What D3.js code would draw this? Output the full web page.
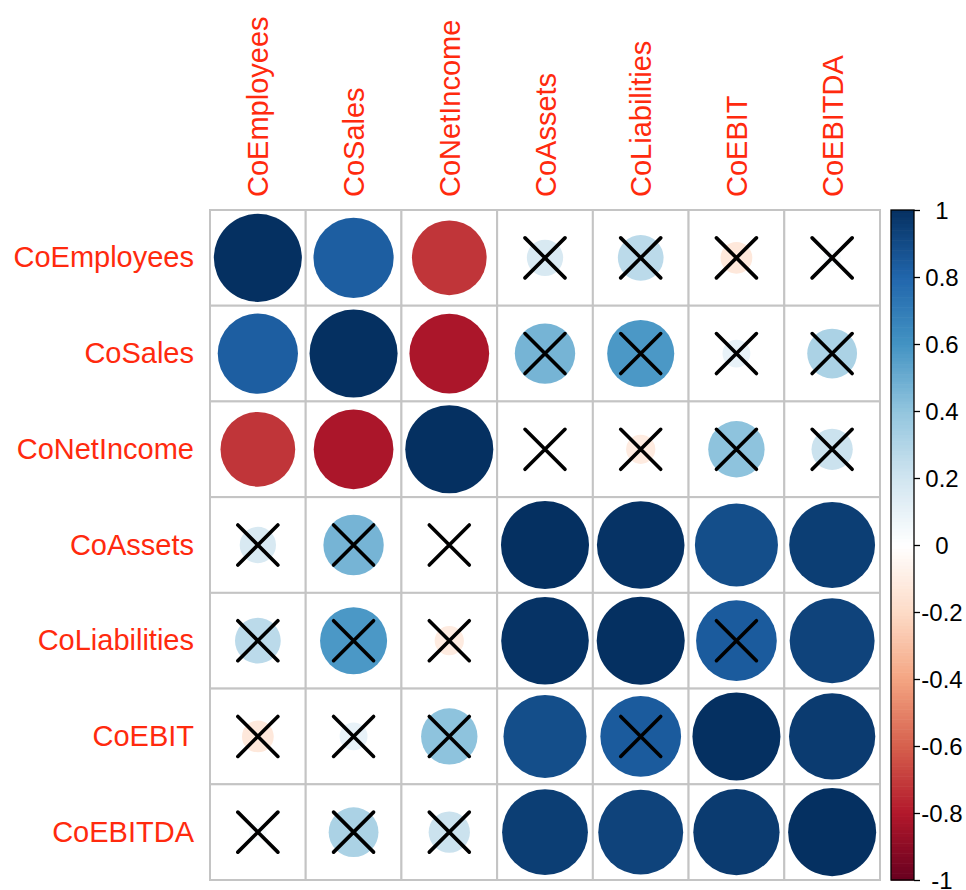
<!DOCTYPE html>
<html>
<head>
<meta charset="utf-8">
<script src="https://cdn.jsdelivr.net/npm/d3@7"></script>
<style>
  html, body { margin: 0; padding: 0; background: #ffffff; }
  svg { display: block; }
</style>
</head>
<body>
<div id="chart"></div>
<script>
// ---------- data ----------
const variables = ["CoEmployees", "CoSales", "CoNetIncome", "CoAssets", "CoLiabilities", "CoEBIT", "CoEBITDA"];

const corrEmployees   = [ 1.00,  0.83, -0.72,  0.17,  0.27, -0.13,  0.04];
const corrSales       = [ 0.83,  1.00, -0.82,  0.47,  0.58,  0.10,  0.32];
const corrNetIncome   = [-0.72, -0.82,  1.00,  0.01, -0.11,  0.41,  0.22];
const corrAssets      = [ 0.17,  0.47,  0.01,  1.00,  0.99,  0.89,  0.95];
const corrLiabilities = [ 0.27,  0.58, -0.11,  0.99,  1.00,  0.84,  0.93];
const corrEBIT        = [-0.13,  0.10,  0.41,  0.89,  0.84,  1.00,  0.96];
const corrEBITDA      = [ 0.04,  0.32,  0.22,  0.95,  0.93,  0.96,  1.00];

// 1 = not significant (crossed out)
const insigEmployees   = [0, 0, 0, 1, 1, 1, 1];
const insigSales       = [0, 0, 0, 1, 1, 1, 1];
const insigNetIncome   = [0, 0, 0, 1, 1, 1, 1];
const insigAssets      = [1, 1, 1, 0, 0, 0, 0];
const insigLiabilities = [1, 1, 1, 0, 0, 1, 0];
const insigEBIT        = [1, 1, 1, 0, 1, 0, 0];
const insigEBITDA      = [1, 1, 1, 0, 0, 0, 0];

const legendTicks  = [1, 0.8, 0.6, 0.4, 0.2, 0, -0.2, -0.4, -0.6, -0.8, -1];
const legendLabels = ["1", "0.8", "0.6", "0.4", "0.2", "0", "-0.2", "-0.4", "-0.6", "-0.8", "-1"];

const paletteColors = ["#67001F", "#B2182B", "#D6604D", "#F4A582", "#FDDBC7", "#FFFFFF",
                       "#D1E5F0", "#92C5DE", "#4393C3", "#2166AC", "#053061"];

// ---------- build ----------
const corrRows  = [corrEmployees, corrSales, corrNetIncome, corrAssets, corrLiabilities, corrEBIT, corrEBITDA];
const insigRows = [insigEmployees, insigSales, insigNetIncome, insigAssets, insigLiabilities, insigEBIT, insigEBITDA];

const cells = [];
variables.forEach((rv, i) => {
  variables.forEach((cv, j) => {
    cells.push({ row: rv, col: cv, r: corrRows[i][j], insig: insigRows[i][j] === 1 });
  });
});

const W = 966, H = 890;
const gx0 = 210, gx1 = 880, gy0 = 210, gy1 = 880;
const labelColor = "#ff2a0e";
const font = "'Liberation Sans', Arial, Helvetica, sans-serif";

const svg = d3.select("#chart").append("svg")
  .attr("width", W).attr("height", H)
  .attr("viewBox", `0 0 ${W} ${H}`);

const x = d3.scaleBand().domain(variables).range([gx0, gx1]).padding(0);
const y = d3.scaleBand().domain(variables).range([gy0, gy1]).padding(0);
const cell = x.bandwidth();

const color = d3.scaleLinear()
  .domain(d3.range(paletteColors.length).map(k => -1 + 2 * k / (paletteColors.length - 1)))
  .range(paletteColors)
  .interpolate(d3.interpolateRgb);

const radius = d3.scaleSqrt().domain([0, 1]).range([0, cell * 0.46]);

// grid background cells
const gridG = svg.append("g");
gridG.selectAll("rect.cell")
  .data(cells)
  .join("rect")
  .attr("class", "cell")
  .attr("x", d => x(d.col))
  .attr("y", d => y(d.row))
  .attr("width", cell)
  .attr("height", cell)
  .attr("fill", "#ffffff")
  .attr("stroke", "#c4c4c4")
  .attr("stroke-width", 2);

// circles
svg.append("g").selectAll("circle")
  .data(cells)
  .join("circle")
  .attr("cx", d => x(d.col) + cell / 2)
  .attr("cy", d => y(d.row) + cell / 2)
  .attr("r", d => radius(Math.abs(d.r)))
  .attr("fill", d => color(d.r));

// crosses for non-significant
const crossHalf = 20;
const crossG = svg.append("g")
  .attr("stroke", "#000000")
  .attr("stroke-width", 3.6)
  .attr("stroke-linecap", "round");
const insigCells = cells.filter(d => d.insig);
crossG.selectAll("path")
  .data(insigCells)
  .join("path")
  .attr("d", d => {
    const cx = x(d.col) + cell / 2, cy = y(d.row) + cell / 2;
    return `M${cx - crossHalf},${cy - crossHalf}L${cx + crossHalf},${cy + crossHalf}` +
           `M${cx - crossHalf},${cy + crossHalf}L${cx + crossHalf},${cy - crossHalf}`;
  });

// row labels
svg.append("g").selectAll("text")
  .data(variables)
  .join("text")
  .attr("x", gx0 - 16)
  .attr("y", d => y(d) + cell / 2 + 9.5)
  .attr("text-anchor", "end")
  .attr("font-family", font)
  .attr("font-size", 29)
  .attr("fill", labelColor)
  .text(d => d);

// column labels
svg.append("g").selectAll("text")
  .data(variables)
  .join("text")
  .attr("transform", d => `translate(${x(d) + cell / 2 + 10.5},${gy0 - 13}) rotate(-90)`)
  .attr("text-anchor", "start")
  .attr("font-family", font)
  .attr("font-size", 29)
  .attr("fill", labelColor)
  .text(d => d);

// ---------- colour legend ----------
const lx0 = 891, lx1 = 914;
const ly = d3.scaleLinear().domain([-1, 1]).range([gy1, gy0]);
const nBands = 200;
const bands = d3.range(nBands).map(k => ({
  v0: -1 + 2 * k / nBands,
  v1: -1 + 2 * (k + 1) / nBands
}));
svg.append("g").selectAll("rect")
  .data(bands)
  .join("rect")
  .attr("x", lx0)
  .attr("width", lx1 - lx0)
  .attr("y", d => ly(d.v1))
  .attr("height", d => ly(d.v0) - ly(d.v1) + 0.6)
  .attr("fill", d => color((d.v0 + d.v1) / 2));

svg.append("rect")
  .attr("x", lx0).attr("y", gy0)
  .attr("width", lx1 - lx0).attr("height", gy1 - gy0)
  .attr("fill", "none")
  .attr("stroke", "#000000")
  .attr("stroke-width", 1.3);

const legendAxis = d3.axisRight(ly)
  .tickValues(legendTicks)
  .tickFormat((d, i) => legendLabels[i])
  .tickSize(6)
  .tickSizeOuter(0);

const axG = svg.append("g")
  .attr("transform", `translate(${lx1},0)`)
  .call(legendAxis);
axG.select(".domain").remove();
axG.selectAll(".tick line").attr("stroke", "#000000").attr("stroke-width", 1.3);
axG.selectAll(".tick text")
  .attr("x", 28)
  .attr("dy", null)
  .attr("y", 8.5)
  .attr("text-anchor", "middle")
  .attr("font-family", font)
  .attr("font-size", 24)
  .attr("fill", "#000000");
axG.attr("font-family", null).attr("font-size", null);
</script>
</body>
</html>
